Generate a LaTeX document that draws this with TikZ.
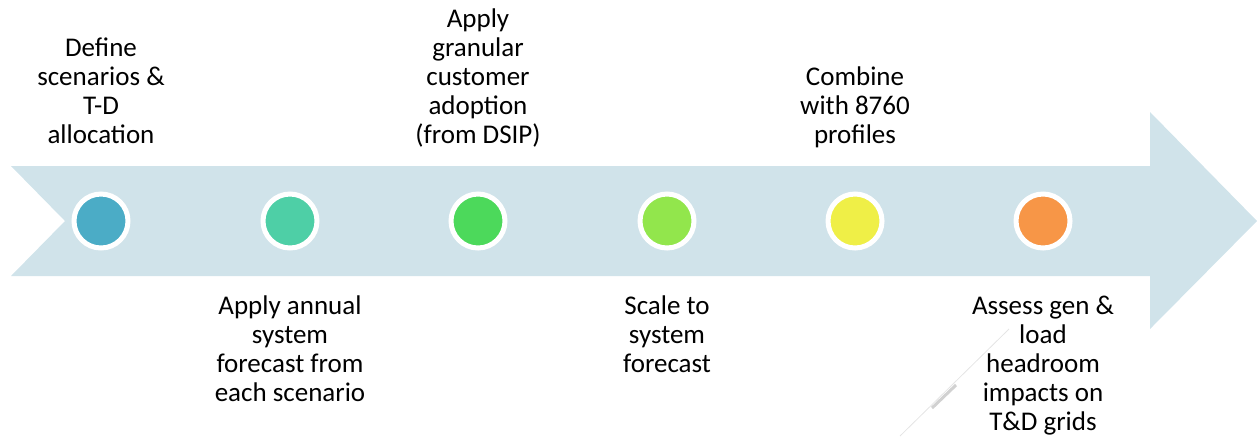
\documentclass[tikz,border=0pt]{standalone}
\usepackage{fontspec}
\setmainfont{Carlito}
\usepackage{xcolor}
\usepackage{tikz}
\usetikzlibrary{positioning}

\definecolor{arrowfill}{HTML}{D0E3EA}
\definecolor{stepA}{HTML}{4BACC6}
\definecolor{stepB}{HTML}{4ECFA6}
\definecolor{stepC}{HTML}{4CD95B}
\definecolor{stepD}{HTML}{92E64C}
\definecolor{stepE}{HTML}{EFEF47}
\definecolor{stepF}{HTML}{F79647}

\begin{document}
\begin{tikzpicture}[x=0.5pt, y=-0.5pt,
    dot/.style={circle, draw=white, line width=2.5pt, minimum size=27pt, inner sep=0pt},
    uptext/.style={align=center, inner sep=0pt, font=\fontsize{13.5}{14.5}\selectfont},
    downtext/.style={align=center, inner sep=0pt, font=\fontsize{13.5}{14.5}\selectfont}]
    \useasboundingbox (0,0) rectangle (1257,436);

    % Big chevron arrow
    \fill[arrowfill] (11,166) -- (1150,166) -- (1150,112) -- (1257,221) -- (1150,329)
        -- (1150,276) -- (11,276) -- (65,221) -- cycle;

    % Faint line near the last step
    \draw[black!10, line width=0.4pt] (900,436) -- (1009,329);
    \draw[black!18, line width=1.5pt] (932,408) -- (956,385);

    % Steps
    \node[dot, fill=stepA] (c1) at (101,221) {};
    \node[dot, fill=stepB] (c2) at (290,221) {};
    \node[dot, fill=stepC] (c3) at (478,221) {};
    \node[dot, fill=stepD] (c4) at (667,221) {};
    \node[dot, fill=stepE] (c5) at (855,221) {};
    \node[dot, fill=stepF] (c6) at (1043,221) {};

    % Labels above
    \node[uptext, above=19.6pt of c1] (t1) {Define\\scenarios \&\\T-D\\allocation\strut};
    \node[uptext, above=19.6pt of c3] (t3) {Apply\\granular\\customer\\adoption\\(from DSIP)\strut};
    \node[uptext, above=19.6pt of c5] (t5) {Combine\\with 8760\\profiles\strut};

    % Labels below
    \node[downtext, below=21.8pt of c2] (t2) {\strut Apply annual\\system\\forecast from\\each scenario};
    \node[downtext, below=21.8pt of c4] (t4) {\strut Scale to\\system\\forecast};
    \node[downtext, below=21.8pt of c6] (t6) {\strut Assess gen \&\\load\\headroom\\impacts on\\T\&D grids};
\end{tikzpicture}
\end{document}
